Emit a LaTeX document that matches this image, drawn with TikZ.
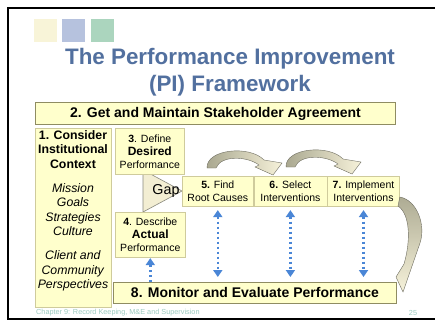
\documentclass[tikz,border=0pt]{standalone}
\usepackage{fontspec}
\setmainfont{Liberation Sans}
\usetikzlibrary{arrows.meta,positioning}
\definecolor{ptitle}{HTML}{52709F}
\definecolor{pfill}{HTML}{FFFFCC}
\definecolor{pedge}{HTML}{CFCB9C}
\definecolor{pdark}{HTML}{8F8C62}
\definecolor{pblue}{HTML}{4A86D6}
\definecolor{pgap}{HTML}{F3EED3}
\definecolor{pgapedge}{HTML}{8A8A7E}
\definecolor{parc}{HTML}{A9A78F}
\definecolor{pcream}{HTML}{F6F2DA}
\definecolor{parcedge}{HTML}{6E6D60}
\definecolor{pfoot}{HTML}{9CCBC0}
\definecolor{psqa}{HTML}{F8F4D8}
\definecolor{psqb}{HTML}{B6C2DE}
\definecolor{psqc}{HTML}{ABD5BE}
\tikzset{
  box/.style={draw=pedge,fill=pfill,line width=0.6pt,align=center,inner sep=0pt,font=\fontsize{10.5}{13}\selectfont},
  bigbox/.style={box,draw=pdark,line width=0.9pt,font=\bfseries\fontsize{14}{16}\selectfont},
  ctxtext/.style={align=center,inner sep=0pt,font=\fontsize{12.3}{14.5}\selectfont},
  title/.style={align=center,inner sep=0pt,text=ptitle,font=\bfseries\fontsize{22.4}{27}\selectfont},
  foot/.style={inner sep=0pt,text=pfoot,font=\fontsize{7.3}{9}\selectfont},
  sq/.style={inner sep=0pt,minimum size=23pt,anchor=north west},
  gapshape/.style={draw=pgapedge,fill=pgap,line width=0.6pt},
  arcshade/.style={draw=parcedge,line width=0.4pt,left color=parc,right color=pcream},
  bigarc/.style={draw=parcedge,line width=0.4pt,top color=parc,bottom color=pcream},
  dotarr/.style={{Triangle[length=7pt,width=9pt]}-{Triangle[length=7pt,width=9pt]},draw=pblue,line width=2.5pt,dash pattern=on 2.5pt off 2.5pt},
  uparr/.style={-{Triangle[length=7pt,width=9pt]},draw=pblue,line width=2.5pt,dash pattern=on 2.5pt off 2.5pt},
  frame/.style={draw=black,line width=2.5pt},
}
\begin{document}
\begin{tikzpicture}[x=1pt,y=-1pt]
\path[use as bounding box,fill=white] (0,0) rectangle (435,335);
\draw[frame] (437,8) -- (8,8) -- (8,319) -- (437,319);

% squares and title
\node[sq,fill=psqa] (sqa) at (34,19) {};
\node[sq,fill=psqb] (sqb) at (62,19) {};
\node[sq,fill=psqc] (sqc) at (91,19) {};
\node[title] (ttl) at (230,72) {The Performance Improvement\\(PI) Framework};

% boxes
\node[bigbox,anchor=north west,minimum width=360pt,minimum height=22pt] (agree) at (35,102) {2. Get and Maintain Stakeholder Agreement};
\node[box,anchor=north west,minimum width=76pt,minimum height=179pt] (ctx) at (35,128) {};
\node[ctxtext] (ctxtxt) at (73,211) {\textbf{1. Consider}\\\textbf{Institutional}\\\textbf{Context}\\[9.5pt]
  \textit{Mission}\\\textit{Goals}\\\textit{Strategies}\\\textit{Culture}\\[9.5pt]
  \textit{Client and}\\\textit{Community}\\\textit{Perspectives}};

\draw[gapshape] (143,170) -- (182,191) -- (143,212) -- cycle;
\node[box,anchor=north west,minimum width=69pt,minimum height=46pt] (desired) at (115,128) {\textbf{3}. Define\\{\fontsize{12}{13}\selectfont\textbf{Desired}}\\Performance};
\node[box,anchor=north west,minimum width=70pt,minimum height=45pt] (actual) at (115,212) {\textbf{4}. Describe\\{\fontsize{12}{13}\selectfont\textbf{Actual}}\\Performance};
\node[inner sep=0pt,font=\fontsize{14.3}{16}\selectfont] (gap) at (166,191) {Gap};

\node[box,anchor=north west,minimum width=71pt,minimum height=29.5pt] (cause) at (182,176) {\textbf{5.} Find\\Root Causes};
\node[box,right=0pt of cause,minimum width=73pt,minimum height=29.5pt] (select) {\textbf{6.} Select\\Interventions};
\node[box,right=0pt of select,minimum width=72pt,minimum height=29.5pt] (impl) {\textbf{7.} Implement\\Interventions};
\node[bigbox,anchor=north west,minimum width=283pt,minimum height=21pt] (monitor) at (113,282) {8. Monitor and Evaluate Performance};

% curved arrows
\foreach \dx/\dy in {0/0,79/-1}
  \shade[arcshade,xshift=\dx pt,yshift=-\dy pt] (207,168) .. controls (206,149) and (250,145) .. (264,160) -- (282,163) -- (273,175) -- (255,167) -- (259,165) .. controls (247,156) and (221,155) .. (216,168) -- cycle;
\shade[bigarc] (impl.east) ++(0,6) .. controls (417,200) and (426,225) .. (420,243) -- (403,292) -- (396,277) -- (404,264) .. controls (411,240) and (410,214) .. (398,206) -- cycle;

% dotted arrows
\foreach \n in {cause,select,impl}
  \draw[dotarr,shorten <=4pt,shorten >=5pt] (\n.south) -- (\n.south |- monitor.north);
\draw[uparr,shorten >=0.5pt] (actual.south |- monitor.north) -- (actual.south);

% footer
\node[foot,anchor=west] (chap) at (36,313) {Chapter 9: Record Keeping, M\&E and Supervision};
\node[foot] (page) at (413,313) {25};
\end{tikzpicture}
\end{document}
